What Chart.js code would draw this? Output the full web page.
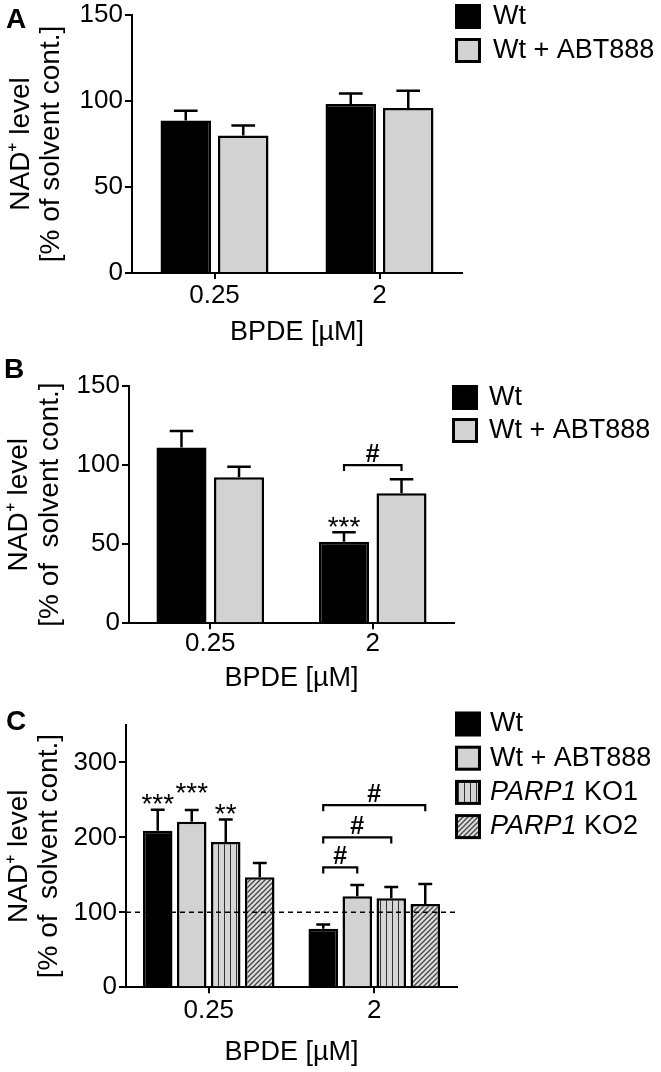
<!DOCTYPE html>
<html>
<head>
<meta charset="utf-8">
<script src="https://cdn.jsdelivr.net/npm/chart.js@4.4.1/dist/chart.umd.min.js"></script>
<style>
  html, body { margin: 0; padding: 0; background: #fff; }
  body { width: 661px; height: 1072px; position: relative; overflow: hidden; }
  canvas { position: absolute; left: 0; }
</style>
</head>
<body>
<canvas id="chartA"></canvas>
<canvas id="chartB"></canvas>
<canvas id="chartC"></canvas>
<script>
// BPDE doses
const doses = ['0.25', '2'];

// Panel A
const aWt = [88.6, 98.3];
const aWtErr = [5.8, 6.1];
const aAbt = [79.9, 96.0];
const aAbtErr = [5.8, 10.0];

// Panel B
const bWt = [111.2, 51.6];
const bWtErr = [10.3, 5.9];
const bAbt = [92.3, 82.2];
const bAbtErr = [6.7, 8.8];
const bStarText = [['', '***'], ['', '']];
const bStarAt = [[null, 65], [null, null]];
const bBrackets = [[0, 1, 1, 100, '#']]; // from dataset, to dataset, dose, level, label

// Panel C
const cWt = [209, 78];
const cWtErr = [28, 5.7];
const cAbt = [221, 121.5];
const cAbtErr = [15.6, 15];
const cKo1 = [194, 118.8];
const cKo1Err = [30, 15];
const cKo2 = [147, 111];
const cKo2Err = [19, 27];
const cStarText = [['***', ''], ['***', ''], ['**', ''], ['', '']];
const cStarAt = [[254, null], [268.5, null], [241, null], [null, null]];
const cBrackets = [[0, 1, 1, 160, '#'], [0, 2, 1, 200, '#'], [0, 3, 1, 243, '#']];
const cControlLevel = 100;

const FONT = "'Liberation Sans', Arial, sans-serif";
Chart.defaults.font.family = FONT;
Chart.defaults.color = '#000';

const GRAY = '#d2d2d2';

function stripePattern() {
    const c = document.createElement('canvas');
    c.width = 6; c.height = 6;
    const g = c.getContext('2d');
    g.fillStyle = '#d6d6d6';
    g.fillRect(0, 0, 6, 6);
    g.fillStyle = '#333';
    g.fillRect(2, 0, 1, 6);
    return g.createPattern(c, 'repeat');
}

function hatchPattern() {
    const s = 5;
    const c = document.createElement('canvas');
    c.width = s; c.height = s;
    const g = c.getContext('2d');
    g.fillStyle = '#dcdcdc';
    g.fillRect(0, 0, s, s);
    g.strokeStyle = '#444';
    g.lineWidth = 1.3;
    g.beginPath();
    g.moveTo(0, s); g.lineTo(s, 0);
    g.moveTo(-1, 1); g.lineTo(1, -1);
    g.moveTo(s - 1, s + 1); g.lineTo(s + 1, s - 1);
    g.stroke();
    return g.createPattern(c, 'repeat');
}

// draws error bars, stars, brackets, reference line, legend and panel letter
const panelExtras = {
    id: 'panelExtras',
    afterDatasetsDraw(chart, args, opts) {
        const ctx = chart.ctx;
        const y = chart.scales.y;
        const area = chart.chartArea;
        ctx.save();

        if (opts.refLevel != null) {
            const py = y.getPixelForValue(opts.refLevel);
            ctx.strokeStyle = '#000';
            ctx.lineWidth = 1.5;
            ctx.setLineDash([5, 4]);
            ctx.beginPath();
            ctx.moveTo(area.left, py);
            ctx.lineTo(area.right, py);
            ctx.stroke();
            ctx.setLineDash([]);
        }

        chart.data.datasets.forEach((ds, i) => {
            const meta = chart.getDatasetMeta(i);
            meta.data.forEach((el, j) => {
                const top = y.getPixelForValue(ds.data[j] + ds.errors[j]);
                const capW = el.width * 0.47;
                ctx.strokeStyle = '#000';
                ctx.lineWidth = 2.5;
                ctx.beginPath();
                ctx.moveTo(el.x, el.y);
                ctx.lineTo(el.x, top);
                ctx.moveTo(el.x - capW / 2, top);
                ctx.lineTo(el.x + capW / 2, top);
                ctx.stroke();
            });
        });

        if (opts.starText) {
            ctx.font = '28px ' + FONT;
            ctx.textAlign = 'center';
            ctx.textBaseline = 'alphabetic';
            ctx.fillStyle = '#000';
            opts.starText.forEach((row, i) => {
                const meta = chart.getDatasetMeta(i);
                row.forEach((txt, j) => {
                    if (!txt) return;
                    const py = y.getPixelForValue(opts.starAt[i][j]);
                    ctx.fillText(txt, meta.data[j].x, py + 16);
                });
            });
        }

        (opts.brackets || []).forEach(b => {
            const [from, to, dose, level, label] = b;
            const x1 = chart.getDatasetMeta(from).data[dose].x;
            const x2 = chart.getDatasetMeta(to).data[dose].x;
            const py = y.getPixelForValue(level);
            ctx.strokeStyle = '#000';
            ctx.lineWidth = 2.2;
            ctx.beginPath();
            ctx.moveTo(x1, py + 6);
            ctx.lineTo(x1, py);
            ctx.lineTo(x2, py);
            ctx.lineTo(x2, py + 6);
            ctx.stroke();
            ctx.font = 'bold 25px ' + FONT;
            ctx.textAlign = 'center';
            ctx.textBaseline = 'alphabetic';
            ctx.fillStyle = '#000';
            ctx.fillText(label, (x1 + x2) / 2, py - 3);
        });
        ctx.restore();
    },
    afterDraw(chart, args, opts) {
        const ctx = chart.ctx;
        ctx.save();
        // panel letter
        ctx.font = 'bold 28px ' + FONT;
        ctx.textAlign = 'left';
        ctx.textBaseline = 'alphabetic';
        ctx.fillStyle = '#000';
        ctx.fillText(opts.letter, opts.letterX, opts.letterBase);

        // legend
        chart.data.datasets.forEach((ds, i) => {
            const cy = opts.legendY + i * opts.legendGap;
            const x = opts.legendX;
            ctx.fillStyle = '#000';
            ctx.fillRect(x, cy - 12.5, 26, 25);
            if (ds.backgroundColor !== '#000') {
                ctx.fillStyle = ds.backgroundColor;
                ctx.fillRect(x + 3, cy - 9.5, 20, 19);
            }
            ctx.fillStyle = '#000';
            ctx.textBaseline = 'middle';
            let tx = opts.legendTextX;
            let text = ds.label;
            if (text.startsWith('PARP1')) {
                ctx.font = 'italic 27px ' + FONT;
                ctx.fillText('PARP1', tx, cy);
                tx += ctx.measureText('PARP1').width;
                text = text.slice(5);
            }
            ctx.font = '27px ' + FONT;
            ctx.fillText(text, tx, cy);
        });
        ctx.restore();
    }
};

function makeChart(id, p, datasets, extras) {
    const canvas = document.getElementById(id);
    canvas.width = 661;
    canvas.height = p.height;
    canvas.style.top = p.top + 'px';
    const xBottom = p.B + p.xH;

    return new Chart(canvas.getContext('2d'), {
        type: 'bar',
        data: { labels: doses, datasets: datasets },
        plugins: [panelExtras],
        options: {
            responsive: false,
            animation: false,
            events: [],
            categoryPercentage: p.catPct,
            barPercentage: p.barPct,
            layout: {
                padding: {
                    top: p.T - p.top,
                    left: 0,
                    right: 661 - p.R,
                    bottom: p.top + p.height - xBottom
                }
            },
            plugins: {
                legend: { display: false },
                tooltip: { enabled: false },
                panelExtras: Object.assign({
                    letter: p.letter,
                    letterX: p.letterX,
                    letterBase: p.letterBase - p.top,
                    legendX: p.legendX,
                    legendY: p.legendY - p.top,
                    legendGap: p.legendGap,
                    legendTextX: p.legendTextX
                }, extras)
            },
            scales: {
                x: {
                    offset: true,
                    grid: {
                        display: true, drawOnChartArea: false, drawTicks: true,
                        tickLength: 6, offset: false, color: '#000', lineWidth: 2
                    },
                    border: { display: true, color: '#000', width: 2 },
                    ticks: {
                        color: '#000', maxRotation: 0, padding: p.tickPad,
                        font: { size: 26, lineHeight: 1 }
                    },
                    title: {
                        display: true, text: 'BPDE [µM]', color: '#000', padding: 0,
                        font: { size: 27, lineHeight: 1.15 }
                    },
                    afterFit: s => { s.height = p.xH; }
                },
                y: {
                    min: 0,
                    max: p.max,
                    grid: {
                        display: true, drawOnChartArea: false, drawTicks: true,
                        tickLength: 7, color: '#000', lineWidth: 2
                    },
                    border: { display: true, color: '#000', width: 2 },
                    ticks: {
                        stepSize: p.step, color: '#000', padding: 2,
                        font: { size: 26, lineHeight: 1 }
                    },
                    afterBuildTicks: s => { s.ticks = s.ticks.filter(t => t.value % p.step === 0); },
                    title: {
                        display: true, text: p.yTitle, color: '#000',
                        padding: { top: p.titlePad, bottom: 0 },
                        font: { size: 28, lineHeight: 1.1 }
                    },
                    afterFit: s => { s.width = p.L; }
                }
            }
        }
    });
}

function bar(label, data, errors, bg) {
    return {
        label: label, data: data, errors: errors,
        backgroundColor: bg, borderColor: '#000', borderWidth: 2.5
    };
}

makeChart('chartA', {
    top: 0, height: 360, L: 132, T: 14, R: 462, B: 273, xH: 75, tickPad: 3.9,
    max: 150, step: 50, catPct: 0.697, barPct: 0.878, titlePad: 5.5,
    yTitle: ['NAD⁺ level', '[% of solvent cont.]'],
    letter: 'A', letterX: 6, letterBase: 28,
    legendX: 455, legendY: 16.5, legendGap: 34, legendTextX: 493
}, [
    bar('Wt', aWt, aWtErr, '#000'),
    bar('Wt + ABT888', aAbt, aAbtErr, GRAY)
], {});

makeChart('chartB', {
    top: 350, height: 350, L: 129, T: 386, R: 454, B: 623.3, xH: 70.3, tickPad: 1.7,
    max: 150, step: 50, catPct: 0.708, barPct: 0.87, titlePad: 4,
    yTitle: ['NAD⁺ level', '[% of  solvent cont.]'],
    letter: 'B', letterX: 4, letterBase: 378,
    legendX: 452, legendY: 397.5, legendGap: 33, legendTextX: 489
}, [
    bar('Wt', bWt, bWtErr, '#000'),
    bar('Wt + ABT888', bAbt, bAbtErr, GRAY)
], { starText: bStarText, starAt: bStarAt, brackets: bBrackets });

makeChart('chartC', {
    top: 695, height: 377, L: 126, T: 725, R: 457, B: 987.3, xH: 80.3, tickPad: 4.6,
    max: 350, step: 100, catPct: 0.822, barPct: 0.868, titlePad: 3.5,
    yTitle: ['NAD⁺ level', '[% of  solvent cont.]'],
    letter: 'C', letterX: 6, letterBase: 730,
    legendX: 455, legendY: 724, legendGap: 34.2, legendTextX: 490
}, [
    bar('Wt', cWt, cWtErr, '#000'),
    bar('Wt + ABT888', cAbt, cAbtErr, GRAY),
    bar('PARP1 KO1', cKo1, cKo1Err, stripePattern()),
    bar('PARP1 KO2', cKo2, cKo2Err, hatchPattern())
], { starText: cStarText, starAt: cStarAt, brackets: cBrackets, refLevel: cControlLevel });
</script>
</body>
</html>
